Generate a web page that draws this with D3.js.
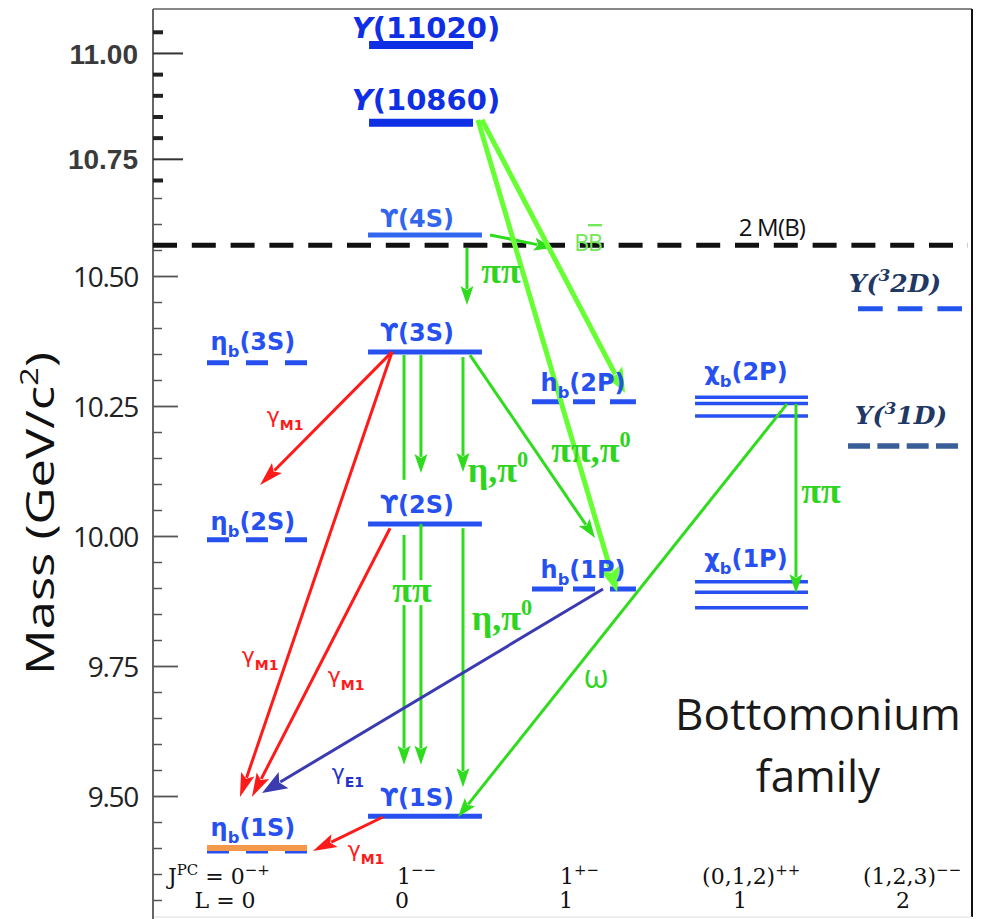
<!DOCTYPE html>
<html><head><meta charset="utf-8">
<script src="https://cdn.jsdelivr.net/npm/d3@7"></script>
<style>html,body{margin:0;padding:0;background:#fff;} svg{display:block;}</style>
</head><body>
<svg id="chart" width="984" height="919"></svg>
<script>
// ---------------- DATA ----------------
// mass axis ticks (GeV/c^2)
const yMajorLower = [9.50, 9.75, 10.00, 10.25, 10.50];
const yMajorUpper = [10.75, 11.00];
const yMajorLabels = ["9.50", "9.75", "10.00", "10.25", "10.50", "10.75", "11.00"];
const yMinorLower = [9.30, 9.35, 9.40, 9.45, 9.55, 9.60, 9.65, 9.70, 9.80, 9.85, 9.90, 9.95,
                     10.05, 10.10, 10.15, 10.20, 10.30, 10.35, 10.40, 10.45, 10.55, 10.60, 10.65];
const yMinorUpper = [10.70, 10.80, 10.85, 10.90, 10.95, 11.05];

// columns (J^PC, L)
const columns = ["eta", "ups", "hb", "chi", "D"];
const jpcValues = [["0", "−+"], ["1", "−−"], ["1", "+−"], ["(0,1,2)", "++"], ["(1,2,3)", "−−"]];
const lValues = ["0", "0", "1", "1", "2"];

// levels (mass in GeV/c^2)
const etaLevels = [{state: "3S", mass: 10.333}, {state: "2S", mass: 9.993}, {state: "1S", mass: 9.399}];
const upsHighLevels = [{state: "11020", mass: 11.019}, {state: "10860", mass: 10.835}];
const upsLevels = [{state: "4S", mass: 10.579}, {state: "3S", mass: 10.354}, {state: "2S", mass: 10.023}, {state: "1S", mass: 9.461}];
const hbLevels = [{state: "2P", mass: 10.258}, {state: "1P", mass: 9.898}];
const chiLevels = [{state: "2P", masses: [10.267, 10.255, 10.231]}, {state: "1P", masses: [9.912, 9.892, 9.862]}];
const dLevels = [{state: "2D", mass: 10.437}, {state: "1D", mass: 10.173}];
const thresholdBB = 10.559;

// transitions: [column-coordinate, mass]
const transitions = [
  {from: [1.264, 10.554], to: [1.264, 10.444], kind: "green"},
  {from: [1.409, 10.579], to: [1.805, 10.554], kind: "green"},
  {from: [0.876, 10.348], to: [0.876, 9.560], kind: "green", gaps: [[10.108, 10.002], [9.915, 9.867]]},
  {from: [0.976, 10.348], to: [0.976, 10.121], kind: "green"},
  {from: [0.976, 10.023], to: [0.976, 9.560], kind: "green", gaps: [[9.915, 9.867]]},
  {from: [1.239, 10.344], to: [1.239, 10.123], kind: "green"},
  {from: [1.239, 10.015], to: [1.239, 9.517], kind: "green"},
  {from: [1.283, 10.348], to: [2.066, 9.996], kind: "green"},
  {from: [1.358, 10.842], to: [2.246, 10.275], kind: "lime"},
  {from: [1.333, 10.842], to: [2.198, 9.892], kind: "lime"},
  {from: [3.234, 10.254], to: [1.208, 9.4596], kind: "green"},
  {from: [3.292, 10.254], to: [3.292, 9.890], kind: "green"},
  {from: [2.114, 9.898], to: [0.036, 9.506], kind: "e1"},
  {from: [0.805, 10.354], to: [0.024, 10.098], kind: "m1"},
  {from: [0.805, 10.354], to: [-0.095, 9.498], kind: "m1"},
  {from: [0.793, 10.015], to: [-0.024, 9.498], kind: "m1"},
  {from: [0.751, 9.4596], to: [0.337, 9.394], kind: "m1"}
];

const transitionLabels = [
  {parts: [["γ"], ["M1", "sub"]], at: [0.172, 10.217], kind: "m1"},
  {parts: [["γ"], ["M1", "sub"]], at: [0.024, 9.756], kind: "m1"},
  {parts: [["γ"], ["M1", "sub"]], at: [0.533, 9.717], kind: "m1"},
  {parts: [["γ"], ["M1", "sub"]], at: [0.651, 9.383], kind: "m1"},
  {parts: [["γ"], ["E1", "sub"]], at: [0.544, 9.531], kind: "e1"},
  {parts: [["ππ"]], at: [1.478, 10.487], kind: "pi"},
  {parts: [["ππ"]], at: [0.923, 9.873], kind: "pi"},
  {parts: [["ππ"]], at: [3.455, 10.063], kind: "pi"},
  {parts: [["η,π"], ["0", "sup"]], at: [1.459, 10.104], kind: "pi"},
  {parts: [["η,π"], ["0", "sup"]], at: [1.484, 9.819], kind: "pi"},
  {parts: [["ππ,π"], ["0", "sup"]], at: [2.042, 10.142], kind: "pi"},
  {parts: [["ω"]], at: [2.072, 9.708], kind: "omega"}
];

// ---------------- LAYOUT / STYLE ----------------
const W = 984, H = 919;
const frame = {left: 153, top: 9, right: 972, bottom: 917};
const y = d3.scaleLinear().domain([9.28, 10.65, 10.70, 11.10]).range([910.4, 198, 180, 10.6]);
const x = d3.scaleLinear().domain([-1, 0, 1, 2, 3, 4, 5]).range([87, 256, 425, 584, 751, 905, 1059]);
const span = {eta: [-0.290, 0.302], ups: [0.663, 1.358], upsHigh: [0.669, 1.302], hb: [1.673, 2.311],
              chi: [2.665, 3.370], d1: [3.630, 4.344], d2: [3.695, 4.370]};
const BLUE = "#2650f0", BLUE_DARK = "#0f2fe4";
const kindStyle = {
  green: {color: "#2fdc1d", width: 3, L: 19, Wd: 6.5},
  lime: {color: "#66ff33", width: 5, L: 25, Wd: 10},
  m1: {color: "#ff1a1a", width: 3, L: 24, Wd: 7},
  e1: {color: "#3b3bb0", width: 3, L: 25, Wd: 9.5}
};
const labelFont = "'DejaVu Sans', Verdana, sans-serif";
const piFont = "'Liberation Serif', 'Times New Roman', serif";

const svg = d3.select("#chart");
svg.append("rect").attr("width", W).attr("height", H).attr("fill", "#fff");

function rich(textSel, parts, size, subScale) {
  let cur = 0;
  parts.forEach(p => {
    const t = p[0], mode = p[1];
    const target = mode === "sub" ? size * 0.3 : mode === "sup" ? -size * 0.42 : 0;
    const ts = textSel.append("tspan").text(t).attr("dy", target - cur);
    if (mode === "sub" || mode === "sup") ts.attr("font-size", size * (subScale || 0.62));
    if (p[2]) ts.attr("font-style", p[2]);
    cur = target;
  });
}

// ---------------- FRAME & AXIS ----------------
svg.append("line").attr("x1", frame.left).attr("x2", frame.right).attr("y1", frame.top).attr("y2", frame.top)
  .attr("stroke", "#888").attr("stroke-width", 2);
svg.append("line").attr("x1", frame.right).attr("x2", frame.right).attr("y1", frame.top).attr("y2", frame.bottom)
  .attr("stroke", "#111").attr("stroke-width", 2);
svg.append("line").attr("x1", frame.left).attr("x2", frame.right).attr("y1", frame.bottom).attr("y2", frame.bottom)
  .attr("stroke", "#ddd").attr("stroke-width", 1);
svg.append("line").attr("x1", frame.left).attr("x2", frame.left).attr("y1", frame.top).attr("y2", H)
  .attr("stroke", "#666").attr("stroke-width", 2);

function axisGroup(values, inner, fmt) {
  const g = svg.append("g").attr("transform", `translate(${frame.left},0)`)
    .call(d3.axisLeft(y).tickValues(values).tickSizeInner(-inner).tickSizeOuter(0).tickPadding(fmt ? 15 : 0)
      .tickFormat(fmt || (() => "")));
  g.select(".domain").remove();
  return g;
}
const gMinL = axisGroup(yMinorLower, 9, null);
gMinL.selectAll("line").attr("stroke", "#555").attr("stroke-width", 1.5);
const gMinU = axisGroup(yMinorUpper, 10, null);
gMinU.selectAll("line").attr("stroke", "#222").attr("stroke-width", 4);
const gMajL = axisGroup(yMajorLower, 25, d => yMajorLabels[yMajorLower.indexOf(d)]);
gMajL.selectAll("line").attr("stroke", "#555").attr("stroke-width", 1.8);
gMajL.selectAll("text").attr("font-family", "'Open Sans', sans-serif").attr("font-size", 28)
  .attr("letter-spacing", -1.3).attr("fill", "#222").attr("dy", "0.36em");
const gMajU = axisGroup(yMajorUpper, 30, d => yMajorLabels[5 + yMajorUpper.indexOf(d)]);
gMajU.selectAll("line").attr("stroke", "#333").attr("stroke-width", 2);
gMajU.selectAll("text").attr("font-family", "'Liberation Sans', Arial, sans-serif").attr("font-weight", "bold")
  .attr("font-size", 28).attr("fill", "#3a3a3a").attr("dy", "0.36em");

svg.append("text").attr("transform", `translate(54,${(352 + 675) / 2}) rotate(-90)`)
  .attr("text-anchor", "middle").attr("font-family", "'Open Sans', sans-serif").attr("font-size", 38)
  .attr("fill", "#111").attr("textLength", 323).attr("lengthAdjust", "spacingAndGlyphs")
  .call(t => rich(t, [["Mass (GeV/c"], ["2", "sup"], [")"]], 38, 0.65));

// ---------------- THRESHOLD ----------------
svg.append("line").attr("x1", frame.left).attr("x2", frame.right - 4)
  .attr("y1", y(thresholdBB)).attr("y2", y(thresholdBB))
  .attr("stroke", "#111").attr("stroke-width", 5).attr("stroke-dasharray", "24,14.8");
svg.append("text").attr("x", x(3.136)).attr("y", y(10.577)).attr("text-anchor", "middle")
  .attr("font-family", "'Open Sans', sans-serif").attr("font-size", 24).attr("letter-spacing", -0.8)
  .attr("fill", "#111").text("2 M(B)");

// ---------------- LEVELS ----------------
const gLev = svg.append("g");
function level(s, mass, color, width, dash, dy) {
  gLev.append("line").attr("x1", x(s[0])).attr("x2", x(s[1]))
    .attr("y1", y(mass) + (dy || 0)).attr("y2", y(mass) + (dy || 0))
    .attr("stroke", color).attr("stroke-width", width)
    .attr("stroke-dasharray", dash || null);
}
etaLevels.forEach(d => level(span.eta, d.mass, BLUE, 5, "22,17", d.state === "1S" ? 2.5 : 0));
// highlight of eta_b(1S)
gLev.append("line").attr("x1", x(span.eta[0])).attr("x2", x(span.eta[1]))
  .attr("y1", y(etaLevels[2].mass) - 0.5).attr("y2", y(etaLevels[2].mass) - 0.5)
  .attr("stroke", "#f4994c").attr("stroke-width", 6);
upsHighLevels.forEach(d => level(span.upsHigh, d.mass, BLUE_DARK, 8));
upsLevels.forEach(d => level(span.ups, d.mass, d.state === "4S" ? "#3366ee" : BLUE, 5));
hbLevels.forEach(d => level(span.hb, d.mass, BLUE, 5, "31,10,22,15,26"));
chiLevels.forEach(d => d.masses.forEach(m => level(span.chi, m, BLUE, 3.5)));
level(span.d2, dLevels[0].mass, "#2255ee", 5, "24.7,15");
level(span.d1, dLevels[1].mass, "#3a5f98", 5.5, "22,7.33");

// ---------------- TRANSITIONS ----------------
const gTr = svg.append("g");
transitions.forEach(t => {
  const st = kindStyle[t.kind];
  const x1 = x(t.from[0]), y1 = y(t.from[1]), x2 = x(t.to[0]), y2 = y(t.to[1]);
  const len = Math.hypot(x2 - x1, y2 - y1), ux = (x2 - x1) / len, uy = (y2 - y1) / len;
  const bx = x2 - ux * st.L * 0.85, by = y2 - uy * st.L * 0.85;
  let segs = [[x1, y1, bx, by]];
  if (t.gaps) {
    segs = [];
    let startY = y1;
    const pts = t.gaps.map(g => [y(g[0]), y(g[1])]).sort((a, b) => a[0] - b[0]);
    pts.forEach(g => { segs.push([x1, startY, x1, g[0]]); startY = g[1]; });
    segs.push([x1, startY, bx, by]);
  }
  segs.forEach(s => gTr.append("line").attr("x1", s[0]).attr("y1", s[1]).attr("x2", s[2]).attr("y2", s[3])
    .attr("stroke", st.color).attr("stroke-width", st.width).attr("stroke-linecap", "butt"));
  const px = -uy, py = ux;
  const hb = [x2 - ux * st.L, y2 - uy * st.L];
  const head = d3.path();
  head.moveTo(x2, y2);
  head.lineTo(hb[0] + px * st.Wd, hb[1] + py * st.Wd);
  head.lineTo(x2 - ux * st.L * 0.8, y2 - uy * st.L * 0.8);
  head.lineTo(hb[0] - px * st.Wd, hb[1] - py * st.Wd);
  head.closePath();
  gTr.append("path").attr("d", head.toString()).attr("fill", st.color);
});

// ---------------- TRANSITION LABELS ----------------
const gTl = svg.append("g");
transitionLabels.forEach(l => {
  const t = gTl.append("text").attr("x", x(l.at[0])).attr("y", y(l.at[1])).attr("text-anchor", "middle");
  if (l.kind === "pi") {
    t.attr("font-family", piFont).attr("font-weight", "bold").attr("font-size", 36)
      .attr("fill", "#2fd41e");
    rich(t, l.parts, 36, 0.62);
  } else if (l.kind === "omega") {
    t.attr("font-family", "'Open Sans', sans-serif").attr("font-size", 32).attr("fill", "#2fd41e");
    rich(t, l.parts, 32, 0.62);
  } else {
    const col = l.kind === "m1" ? "#ff1a1a" : "#2233cc";
    t.attr("font-family", labelFont).attr("font-size", 22).attr("fill", col);
    let cur = 0;
    l.parts.forEach(p => {
      const target = p[1] === "sub" ? 7 : 0;
      const ts = t.append("tspan").text(p[0]).attr("dy", target - cur);
      if (p[1] === "sub") ts.attr("font-size", 14).attr("font-weight", "bold");
      cur = target;
    });
  }
});
// B Bbar
const bb = gTl.append("text").attr("x", x(2.024)).attr("y", y(10.548)).attr("text-anchor", "middle")
  .attr("font-family", "'Open Sans', sans-serif").attr("font-size", 23).attr("fill", "#6ee855")
  .attr("letter-spacing", -1);
bb.append("tspan").text("B");
bb.append("tspan").text("B").style("text-decoration", "overline");

// ---------------- LEVEL LABELS ----------------
const gLab = svg.append("g").attr("font-family", labelFont).attr("font-weight", "bold");
function label(u, mass, off, parts, size, color, family, style) {
  const t = gLab.append("text").attr("x", x(u)).attr("y", y(mass) - off).attr("text-anchor", "middle")
    .attr("font-size", size).attr("fill", color);
  if (family) t.attr("font-family", family);
  if (style) t.attr("font-style", style);
  rich(t, parts, size, 0.68);
}
const etaOff = [13, 10, 13];
etaLevels.forEach((d, i) => label(-0.018, d.mass, etaOff[i], [["η"], ["b", "sub"], ["(" + d.state + ")"]], 24, BLUE));
const highOff = [7, 13];
upsHighLevels.forEach((d, i) => label(1.006, d.mass, highOff[i], [["Υ", null, "italic"], ["(" + d.state + ")"]], 29, BLUE_DARK));
const upsOff = [8, 11, 11, 10];
upsLevels.forEach((d, i) => label(0.953, d.mass, upsOff[i], [["ϒ"], ["(" + d.state + ")"]], 24, d.state === "4S" ? "#3366ee" : BLUE));
hbLevels.forEach(d => label(1.994, d.mass, 11, [["h"], ["b", "sub"], ["(" + d.state + ")"]], 24, BLUE));
const chiOff = [17, 15];
chiLevels.forEach((d, i) => label(2.970, d.masses[0], chiOff[i], [["χ"], ["b", "sub"], ["(" + d.state + ")"]], 24, BLUE));
const dU = [3.935, 3.974], dOff = [17, 22];
dLevels.forEach((d, i) => label(dU[i], d.mass, dOff[i], [["Y("], ["3", "sup"], [d.state + ")"]], 25, "#1f3864",
  "'DejaVu Serif', serif", "italic"));

// ---------------- BOTTOM J^PC / L ROW ----------------
const jpcStart = [-0.521, 0.834, 1.849, 2.707, 3.727];
const lCenter = [-0.183, 0.864, 1.887, 2.934, 3.987];
const gJ = svg.append("g").attr("font-family", "'DejaVu Serif', serif").attr("fill", "#111");
jpcValues.forEach((v, i) => {
  const t = gJ.append("text").attr("x", x(jpcStart[i])).attr("y", y(9.331)).attr("font-size", 22);
  const parts = i === 0 ? [["J"], ["PC", "sup"], [" = " + v[0]], [v[1], "sup"]] : [[v[0]], [v[1], "sup"]];
  rich(t, parts, 22, 0.68);
  gJ.append("text").attr("x", x(lCenter[i])).attr("y", y(9.285)).attr("text-anchor", "middle")
    .attr("font-size", 22).text(i === 0 ? "L = " + lValues[i] : lValues[i]);
});

// ---------------- TITLE ----------------
const gT = svg.append("g").attr("font-family", "'Open Sans', sans-serif").attr("fill", "#1a1a1a")
  .attr("text-anchor", "middle").attr("font-size", 44);
gT.append("text").attr("x", x(3.435)).attr("y", y(9.627)).text("Bottomonium");
gT.append("text").attr("x", x(3.435)).attr("y", y(9.508)).text("family");
</script>
</body></html>
